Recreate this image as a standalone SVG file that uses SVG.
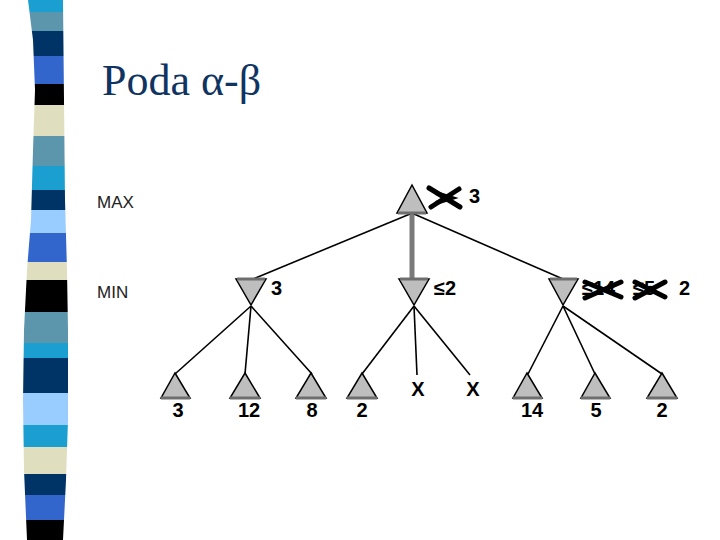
<svg xmlns="http://www.w3.org/2000/svg" width="720" height="540" viewBox="0 0 720 540">
<defs>
<style>
.tri{fill:#BEBEBE;stroke:#000;stroke-width:1.5;stroke-linejoin:miter}
.base{stroke:#6E6E6E;stroke-width:3;fill:none}
.edge{stroke:#000;stroke-width:1.6;fill:none}
.lbl{font-family:"Liberation Sans",Arial,sans-serif;font-weight:bold;font-size:20px;fill:#000}
.lvl{font-family:"Liberation Sans",Arial,sans-serif;font-size:17px;fill:#222}
.cross{stroke:#000;stroke-width:5;stroke-linecap:round;fill:none}
</style>
<clipPath id="band"><path d="M28,0 L33,40 L35,90 L33,150 L31,220 L27,270 L24,330 L23,400 L24,470 L27,540 L63,540 L66,480 L68,420 L68,330 L67,270 L65,200 L64,100 L63,0 Z"/></clipPath>
</defs>
<rect width="720" height="540" fill="#fff"/>
<g id="stripes" clip-path="url(#band)">
<rect x="0" y="0" width="100" height="12" fill="#1A9FD0"/>
<rect x="0" y="12" width="100" height="19" fill="#5C96AC"/>
<rect x="0" y="31" width="100" height="25" fill="#003366"/>
<rect x="0" y="56" width="100" height="28" fill="#3366CC"/>
<rect x="0" y="84" width="100" height="21" fill="#000"/>
<rect x="0" y="105" width="100" height="31" fill="#DFDFC0"/>
<rect x="0" y="136" width="100" height="30" fill="#5C96AC"/>
<rect x="0" y="166" width="100" height="24" fill="#1A9FD0"/>
<rect x="0" y="190" width="100" height="20" fill="#003366"/>
<rect x="0" y="210" width="100" height="23" fill="#99CCFF"/>
<rect x="0" y="233" width="100" height="29" fill="#3366CC"/>
<rect x="0" y="262" width="100" height="18" fill="#DFDFC0"/>
<rect x="0" y="280" width="100" height="32" fill="#000"/>
<rect x="0" y="312" width="100" height="31" fill="#5C96AC"/>
<rect x="0" y="343" width="100" height="15" fill="#1A9FD0"/>
<rect x="0" y="358" width="100" height="35" fill="#003366"/>
<rect x="0" y="393" width="100" height="32" fill="#99CCFF"/>
<rect x="0" y="425" width="100" height="22" fill="#1A9FD0"/>
<rect x="0" y="447" width="100" height="27" fill="#DFDFC0"/>
<rect x="0" y="474" width="100" height="21" fill="#003366"/>
<rect x="0" y="495" width="100" height="25" fill="#3366CC"/>
<rect x="0" y="520" width="100" height="20" fill="#000"/>
</g>
<text id="title" x="102" y="95" font-family="'Liberation Serif','Times New Roman',serif" font-size="44" fill="#0F3461">Poda α-β</text>
<text class="lvl" x="97" y="208">MAX</text>
<text class="lvl" x="97" y="298">MIN</text>
<g id="connectors">
<line x1="412" y1="213" x2="412" y2="280" stroke="#7A7A7A" stroke-width="5"/>
<line class="edge" x1="410" y1="214" x2="253" y2="279"/>
<line class="edge" x1="414" y1="214" x2="563" y2="279"/>
<line class="edge" x1="251" y1="306" x2="175" y2="374"/>
<line class="edge" x1="251" y1="306" x2="245" y2="374"/>
<line class="edge" x1="251" y1="306" x2="312" y2="374"/>
<line class="edge" x1="414" y1="306" x2="362" y2="374"/>
<line class="edge" x1="414" y1="306" x2="417" y2="375"/>
<line class="edge" x1="414" y1="306" x2="470" y2="375"/>
<line class="edge" x1="563" y1="306" x2="528" y2="374"/>
<line class="edge" x1="563" y1="306" x2="595" y2="374"/>
<line class="edge" x1="563" y1="306" x2="662" y2="374"/>
</g>
<g id="root">
<path class="tri" d="M412,185 L427,213 L397,213 Z"/>
<line class="base" x1="398" y1="213" x2="426" y2="213"/>
<path class="cross" d="M429,188 L460,207 M431,207 L459,189"/>
<path d="M436,193 L452,198 L436,203" stroke="#000" stroke-width="4" fill="none"/>
<text class="lbl" x="469" y="203">3</text>
</g>
<g id="min1">
<path class="tri" d="M236,279 L266,279 L251,305 Z"/>
<line class="base" x1="237" y1="279" x2="265" y2="279"/>
<text class="lbl" x="271" y="295">3</text>
</g>
<g id="min2">
<path class="tri" d="M399,279 L429,279 L414,305 Z"/>
<line class="base" x1="400" y1="279" x2="428" y2="279"/>
<text class="lbl" x="434" y="295">≤2</text>
</g>
<g id="min3">
<path class="tri" d="M549,279 L578,279 L563,305 Z"/>
<line class="base" x1="550" y1="279" x2="577" y2="279"/>
<text class="lbl" x="582" y="295">≤14</text>
<path class="cross" d="M585,282 L621,297 M585,298 L621,282"/>
<text class="lbl" x="633" y="295">≤5</text>
<path class="cross" d="M635,282 L665,297 M635,298 L665,282"/>
<text class="lbl" x="679" y="295">2</text>
</g>
<g id="leaves">
<g id="leaf1"><path class="tri" d="M175,373 L190,398 L161,398 Z"/><line class="base" x1="161" y1="398" x2="190" y2="398"/><text class="lbl" x="178" y="417" text-anchor="middle">3</text></g>
<g id="leaf2"><path class="tri" d="M245,373 L260,398 L230,398 Z"/><line class="base" x1="230" y1="398" x2="260" y2="398"/><text class="lbl" x="249" y="417" text-anchor="middle">12</text></g>
<g id="leaf3"><path class="tri" d="M311,373 L326,398 L296,398 Z"/><line class="base" x1="296" y1="398" x2="326" y2="398"/><text class="lbl" x="312" y="417" text-anchor="middle">8</text></g>
<g id="leaf4"><path class="tri" d="M362,373 L377,398 L347,398 Z"/><line class="base" x1="347" y1="398" x2="377" y2="398"/><text class="lbl" x="362" y="417" text-anchor="middle">2</text></g>
<g id="leaf5"><text class="lbl" x="418" y="396" text-anchor="middle">X</text></g>
<g id="leaf6"><text class="lbl" x="473" y="396" text-anchor="middle">X</text></g>
<g id="leaf7"><path class="tri" d="M527,373 L542,398 L513,398 Z"/><line class="base" x1="513" y1="398" x2="542" y2="398"/><text class="lbl" x="532" y="417" text-anchor="middle">14</text></g>
<g id="leaf8"><path class="tri" d="M595,373 L610,398 L581,398 Z"/><line class="base" x1="581" y1="398" x2="610" y2="398"/><text class="lbl" x="596" y="417" text-anchor="middle">5</text></g>
<g id="leaf9"><path class="tri" d="M662,373 L677,398 L647,398 Z"/><line class="base" x1="647" y1="398" x2="677" y2="398"/><text class="lbl" x="662" y="417" text-anchor="middle">2</text></g>
</g>
</svg>
